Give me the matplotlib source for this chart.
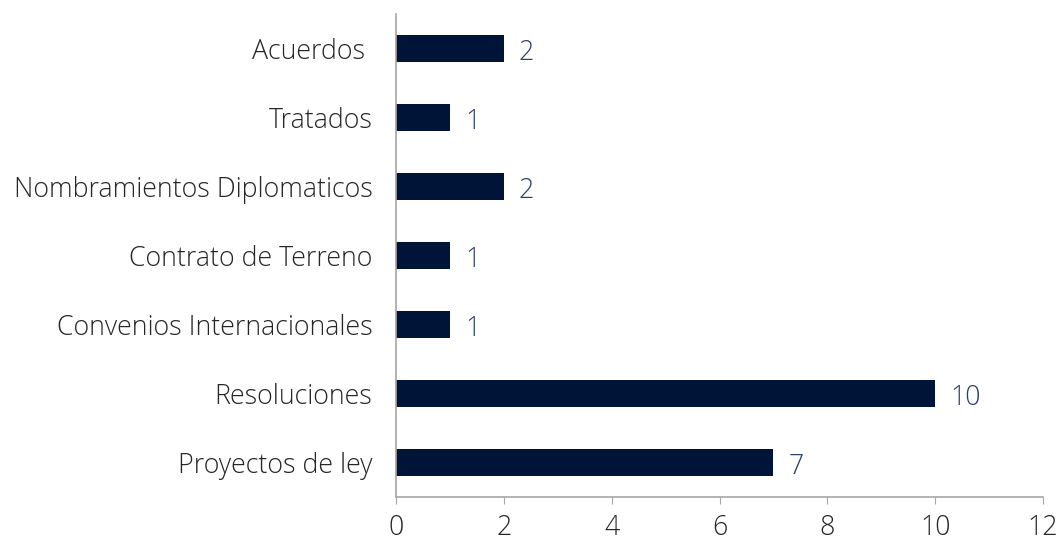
import matplotlib
matplotlib.use("Agg")
import matplotlib.pyplot as plt

categories = ["Proyectos de ley", "Resoluciones", "Convenios Internacionales",
              "Contrato de Terreno", "Nombramientos Diplomaticos", "Tratados", "Acuerdos "]
counts = [7, 10, 1, 1, 2, 1, 2]
xticks = [0, 2, 4, 6, 8, 10, 12]

plt.rcParams['font.family'] = ['Open Sans', 'DejaVu Sans']
plt.rcParams['font.weight'] = 300

fig = plt.figure(figsize=(10.6, 5.41), dpi=100)
ax = fig.add_axes([0.3736, 0.0813, 0.6104, 0.8927])

ypos = list(range(len(categories)))
ax.barh(ypos, counts, height=0.4, color='#001437')
for y, v in zip(ypos, counts):
    ax.text(v + 0.28, y - 0.06, str(v), va='center', ha='left',
            fontsize=19.3, color='#2E3F6E', fontweight=300)

ax.set_xlim(0, 12)
ax.set_ylim(-0.5, len(categories) - 0.5)
ax.set_xticks(xticks)
ax.set_yticks(ypos)
ax.set_yticklabels(categories)

for s in ['top', 'right']:
    ax.spines[s].set_visible(False)
for s in ['left', 'bottom']:
    ax.spines[s].set_color('#A6A6A6')
    ax.spines[s].set_linewidth(1.2)

ax.tick_params(axis='y', length=0, pad=17, labelsize=19.3, labelcolor='#262626')
ax.tick_params(axis='x', length=5, color='#A6A6A6', pad=7, labelsize=19.3,
               labelcolor='#262626')

fig.savefig("out.png", dpi=100)
